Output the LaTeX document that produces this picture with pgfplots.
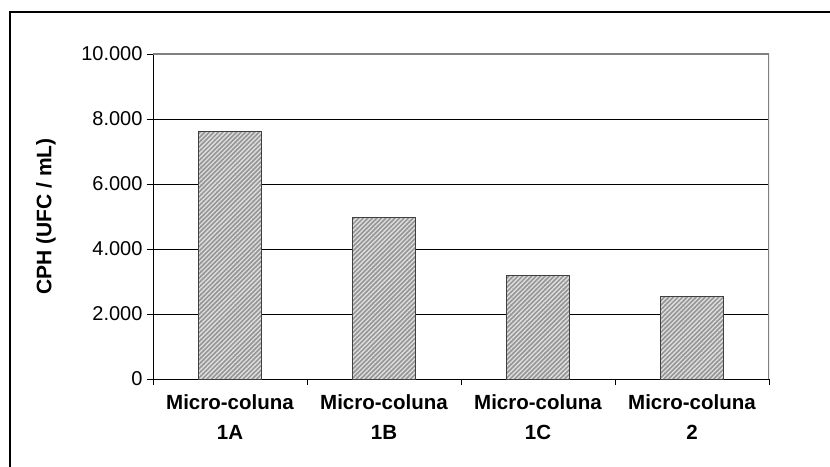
\documentclass[border=0pt]{standalone}
\usepackage{fontspec}
\setmainfont{Liberation Sans}
\usepackage{pgfplots}
\pgfplotsset{compat=1.18}
\usetikzlibrary{patterns.meta}
\definecolor{barfill}{RGB}{150,150,150}
\definecolor{barstripe}{RGB}{224,224,224}
\definecolor{borderg}{RGB}{128,128,128}
\begin{document}
\begin{tikzpicture}
\useasboundingbox (-153pt,-87pt) rectangle (677pt,379pt);
\clip (-153pt,-87pt) rectangle (677pt,379pt);
\draw[line width=1.2pt] (-143pt,-120pt) -- (-143pt,367pt) -- (700pt,367pt);
\begin{axis}[
  at={(0pt,0pt)}, anchor=south west,
  scale only axis, width=616pt, height=325pt,
  xmin=-0.5, xmax=3.5, ymin=0, ymax=10000,
  axis lines=left, axis line style={-, black, line width=0.8pt},
  xtick={0,1,2,3},
  xticklabels={Micro-coluna\\1A, Micro-coluna\\1B, Micro-coluna\\1C, Micro-coluna\\2},
  minor xtick={-0.5,0.5,1.5,2.5,3.5},
  major x tick style={draw=none},
  minor x tick style={black, line width=0.8pt},
  ytick={0,2000,4000,6000,8000,10000},
  y tick style={black, line width=0.8pt},
  tick align=outside,
  major tick length=6pt, minor tick length=6pt,
  ymajorgrids, y grid style={black, line width=0.8pt},
  /pgf/number format/assume math mode=true,
  /pgf/number format/1000 sep={.},
  scaled y ticks=false,
  yticklabel style={font=\fontsize{20}{24}\selectfont, xshift=-1pt},
  xticklabel style={font=\fontsize{20.5}{30}\selectfont\bfseries, align=center, yshift=-6pt},
  ylabel={CPH (UFC / mL)},
  every axis y label/.style={at={(axis description cs:-0.1737,0.5)}, rotate=90, anchor=center, font=\fontsize{21}{24}\selectfont\bfseries},
]
\addplot[ybar, bar width=63pt, draw=black!75, line width=0.6pt, fill=barfill,
  postaction={pattern={Lines[angle=45,distance=3.2pt,line width=1.3pt]}, pattern color=barstripe}]
  coordinates {(0,7610) (1,4980) (2,3190) (3,2550)};
\draw[borderg, line width=1.2pt] (rel axis cs:0,1) -- (rel axis cs:1,1) -- (rel axis cs:1,0);
\end{axis}
\end{tikzpicture}
\end{document}
